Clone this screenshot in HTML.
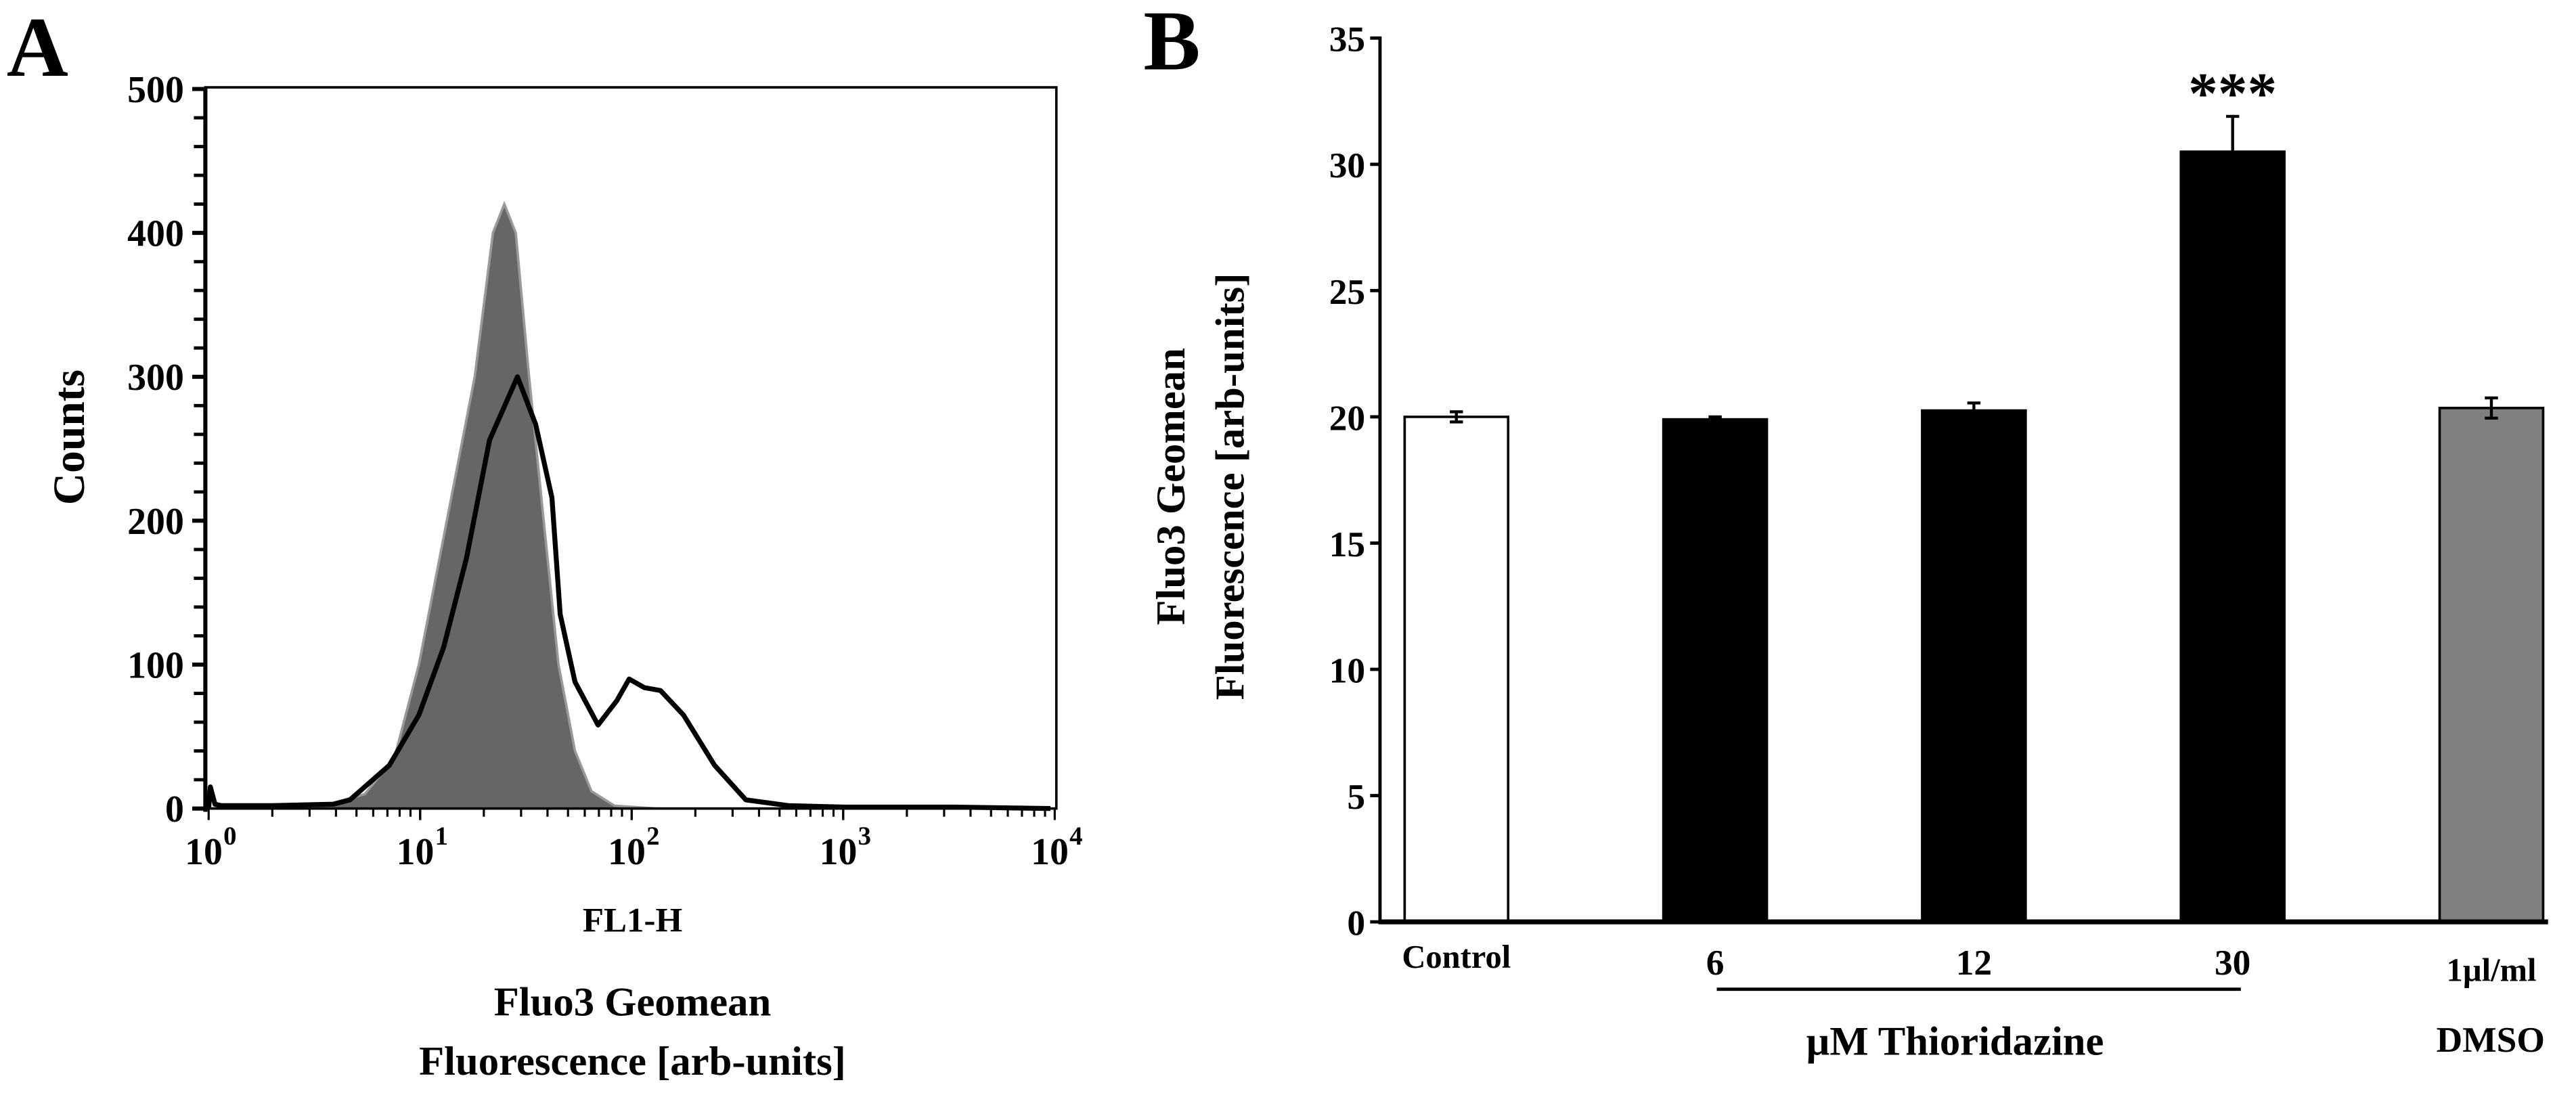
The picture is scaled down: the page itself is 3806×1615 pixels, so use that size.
<!DOCTYPE html>
<html><head><meta charset="utf-8"><style>
html,body{margin:0;padding:0;background:#fff;}
svg{display:block;font-family:"Liberation Serif",serif;font-weight:bold;}
</style></head><body>
<svg id="fig" width="3806" height="1615" viewBox="0 0 1568 665" xmlns="http://www.w3.org/2000/svg">
<text x="4" y="46" font-size="52">A</text>
<text x="696" y="42" font-size="52">B</text>
<g id="pa"></g>
<g id="pb"></g>
</svg>
<script>
// Panel A data
const grayLog = [0,0.567,0.738,0.878,0.994,1.126,1.258,1.344,1.398,1.452,1.515,1.584,1.654,1.732,1.81,1.918,2.12,4];
const grayCounts = [0,3,10,35,100,200,300,400,420,400,300,200,100,40,12,2,0,0];
const lineLog = [0,0.008,0.03,0.06,0.3,0.59,0.668,0.854,0.994,1.111,1.219,1.328,1.40,1.46,1.546,1.623,1.662,1.732,1.841,1.93,1.988,2.06,2.136,2.245,2.392,2.54,2.74,3.0,3.52,3.98];
const lineCounts = [0,15,3,2,2,3,6,30,65,112,174,256,280,300,267,216,135,88,58,75,90,84,82,65,30,6,2,1,1,0];
const aYTicks = [0,100,200,300,400,500];
const aXTicks = [0,1,2,3,4];
// Panel B data
const bCategories = ["Control","6","12","30","1µl/ml"];
const bValues = [20.0,19.9,20.25,30.5,20.35];
const bErrors = [0.2,0.1,0.3,1.4,0.4];
const bFills = ["#fff","#000","#000","#000","#808080"];
const bYTicks = [0,5,10,15,20,25,30,35];

const NS="http://www.w3.org/2000/svg";
function mk(parent,tag,attrs,text){const e=document.createElementNS(NS,tag);for(const k in attrs)e.setAttribute(k,attrs[k]);if(text!==undefined)e.textContent=text;parent.appendChild(e);return e;}

// ---- Panel A ----
const pa=document.getElementById('pa');
const aL=125,aR=643,aT=53,aB=492;
const ax=l=>127+l*128.75;
const ay=c=>aB-c*(aB-54)/500;
let d="M"+ax(grayLog[0])+","+ay(0);
grayLog.forEach((l,i)=>{d+=" L"+ax(l)+","+ay(grayCounts[i]);});
d+=" L"+ax(grayLog[grayLog.length-1])+","+ay(0)+"Z";
const gp=mk(pa,'path',{d:d,fill:'#666',stroke:'#999','stroke-width':1.5});


let d2="";
lineLog.forEach((l,i)=>{d2+=(i?" L":"M")+ax(l)+","+ay(lineCounts[i]);});
const lp=mk(pa,'path',{d:d2,fill:'none',stroke:'#000','stroke-width':3,'stroke-linejoin':'round'});


const fr=mk(pa,'rect',{x:aL,y:aT,width:aR-aL,height:aB-aT,fill:'none',stroke:'#000','stroke-width':1.5});


mk(pa,'line',{x1:aL,y1:aT,x2:aL,y2:aB+2,stroke:'#000','stroke-width':2.5});
for(let v=0;v<=500;v+=20){const major=v%100===0;mk(pa,'line',{x1:aL-(major?8:7),y1:ay(v),x2:aL,y2:ay(v),stroke:'#000','stroke-width':major?2.5:2});}
aYTicks.forEach(v=>{const t=mk(pa,'text',{x:aL-13,y:ay(v)+8,'font-size':23,'text-anchor':'end'},String(v));

});
for(let dec=0;dec<4;dec++){for(let m=1;m<=10;m++){const l=dec+Math.log10(m);mk(pa,'line',{x1:ax(l),y1:aB,x2:ax(l),y2:aB+(m===1||m===10?7:5),stroke:'#000','stroke-width':1.3});}}
aXTicks.forEach(v=>{const t=mk(pa,'text',{x:ax(v)-3,y:aB+34,'font-size':23,'text-anchor':'middle'},"10");


mk(pa,'text',{x:ax(v)+9,y:aB+22,'font-size':16},String(v));});
let t;
t=mk(pa,'text',{x:385,y:567,'font-size':21,'text-anchor':'middle'},"FL1-H");


t=mk(pa,'text',{x:385,y:618,'font-size':25,'text-anchor':'middle'},"Fluo3 Geomean");


t=mk(pa,'text',{x:385,y:654,'font-size':25,'text-anchor':'middle'},"Fluorescence [arb-units]");


t=mk(pa,'text',{x:0,y:0,'font-size':27,'text-anchor':'middle',transform:'translate(51,266) rotate(-90)'},"Counts");



// ---- Panel B ----
const pb=document.getElementById('pb');
const bL=840,bB=561,bT=23,bX0=855,bStep=157.5,bW=63;
const by=v=>bB-v*(bB-bT)/35;
bCategories.forEach((c,i)=>{
  const x=bX0+i*bStep;
  const r=mk(pb,'rect',{x:x,y:by(bValues[i]),width:bW,height:bB-by(bValues[i]),fill:bFills[i],stroke:'#000','stroke-width':1.5});
  
  
  const cx=x+bW/2,y1=by(bValues[i]+bErrors[i]),y0=by(bValues[i]-bErrors[i]);
  const e=mk(pb,'path',{d:`M${cx},${y0} L${cx},${y1} M${cx-4},${y1} L${cx+4},${y1} M${cx-4},${y0} L${cx+4},${y0}`,stroke:'#000','stroke-width':1.8});
  
  
});
mk(pb,'line',{x1:bL,y1:bT-1,x2:bL,y2:bB+1,stroke:'#000','stroke-width':2});
mk(pb,'line',{x1:bL-1,y1:bB,x2:1551,y2:bB,stroke:'#000','stroke-width':3});
bYTicks.forEach(v=>{mk(pb,'line',{x1:bL-6,y1:by(v),x2:bL,y2:by(v),stroke:'#000','stroke-width':2});
  const tt=mk(pb,'text',{x:bL-9,y:by(v)+8,'font-size':22,'text-anchor':'end'},String(v));
  
  });
t=mk(pb,'text',{x:bX0+3*bStep+bW/2,y:by(bValues[3]+bErrors[3])-2,'font-size':36,'text-anchor':'middle'},"***");


const labY=[589,593,593,593,597];
bCategories.forEach((c,i)=>{const tt=mk(pb,'text',{x:bX0+i*bStep+bW/2,y:labY[i],'font-size':i===0||i===4?20:22,'text-anchor':'middle'},c);
  
  });
mk(pb,'line',{x1:1045,y1:602,x2:1364,y2:602,stroke:'#000','stroke-width':2});
t=mk(pb,'text',{x:1190,y:642,'font-size':25,'text-anchor':'middle'},"µM Thioridazine");


t=mk(pb,'text',{x:1516,y:640,'font-size':22,'text-anchor':'middle'},"DMSO");


t=mk(pb,'text',{x:0,y:0,'font-size':25,'text-anchor':'middle',transform:'translate(721,296) rotate(-90)'},"Fluo3 Geomean");


t=mk(pb,'text',{x:0,y:0,'font-size':25,'text-anchor':'middle',transform:'translate(757,296) rotate(-90)'},"Fluorescence [arb-units]");


</script>
</body></html>
